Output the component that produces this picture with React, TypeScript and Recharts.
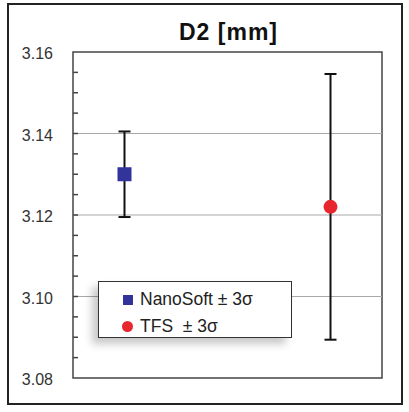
import {
  ScatterChart,
  Scatter,
  XAxis,
  YAxis,
  ErrorBar,
  ReferenceArea,
  ReferenceLine,
  Legend,
} from "recharts";

const seriesNames = ["NanoSoft ± 3σ", "TFS  ± 3σ"];
const positions = [1, 5];
const means = [3.13, 3.122];
const threeSigma = [0.0105, 0.0326];
const yTicks = [3.08, 3.1, 3.12, 3.14, 3.16];
const gridValues = [3.1, 3.12, 3.14];
const allTicks = [
  3.08, 3.085, 3.09, 3.095, 3.1, 3.105, 3.11, 3.115, 3.12, 3.125, 3.13, 3.135,
  3.14, 3.145, 3.15, 3.155, 3.16,
];

const nanoData = [{ x: positions[0], y: means[0], err: threeSigma[0] }];
const tfsData = [{ x: positions[1], y: means[1], err: threeSigma[1] }];

const FONT = "'Liberation Sans', Arial, sans-serif";

const Square = (props: any) => {
  const { cx, cy } = props;
  return <rect x={cx - 7} y={cy - 7} width={14} height={14} fill="#33339c" />;
};

const Dot = (props: any) => {
  const { cx, cy } = props;
  return <circle cx={cx} cy={cy} r={7} fill="#e8262e" />;
};

// labels only on the major values, short inward ticks on every 0.005
const YTick = (props: any) => {
  const { x, y, payload } = props;
  const v = payload.value;
  const major = yTicks.some((t) => Math.abs(t - v) < 1e-6);
  const edge = Math.abs(v - 3.08) < 1e-6 || Math.abs(v - 3.16) < 1e-6;
  return (
    <g>
      {!edge && (
        <line x1={x} x2={x + 5} y1={y} y2={y} stroke="#444" strokeWidth={1.5} />
      )}
      {major && (
        <text
          x={x - 20}
          y={y}
          dy={7}
          textAnchor="end"
          fill="#333"
          fontSize={16}
          fontFamily={FONT}
        >
          {v.toFixed(2)}
        </text>
      )}
    </g>
  );
};

const LegendBox = () => (
  <div
    style={{
      width: 194,
      height: 57,
      border: "1px solid #333",
      background: "#fff",
      boxShadow: "-6px 6px 8px rgba(0,0,0,0.22)",
      fontFamily: FONT,
      fontSize: 17.5,
      color: "#222",
      boxSizing: "border-box",
      paddingTop: 4,
      whiteSpace: "pre",
    }}
  >
    <div style={{ display: "flex", alignItems: "center", height: 27 }}>
      <span
        style={{
          display: "inline-block",
          width: 10,
          height: 10,
          background: "#33339c",
          marginLeft: 24,
          marginRight: 7,
        }}
      />
      {seriesNames[0]}
    </div>
    <div style={{ display: "flex", alignItems: "center", height: 27 }}>
      <span
        style={{
          display: "inline-block",
          width: 11,
          height: 11,
          borderRadius: "50%",
          background: "#e8262e",
          marginLeft: 23,
          marginRight: 7,
        }}
      />
      {seriesNames[1]}
    </div>
  </div>
);

export default function App() {
  return (
    <div
      style={{
        position: "absolute",
        left: 0,
        top: 0,
        width: 409,
        height: 412,
        background: "#fff",
      }}
    >
      <div
        style={{
          position: "absolute",
          left: 7,
          top: 3,
          width: 396,
          height: 402,
          border: "2px solid #222",
          boxSizing: "border-box",
        }}
      />
      <div
        style={{
          position: "absolute",
          left: 0,
          width: 409,
          top: 19,
          textAlign: "center",
          paddingLeft: 48,
          boxSizing: "border-box",
          fontFamily: FONT,
          fontWeight: "bold",
          fontSize: 23,
          letterSpacing: 1,
          color: "#111",
        }}
      >
        D2 [mm]
      </div>
      <div style={{ position: "absolute", left: 0, top: 0 }}>
        <ScatterChart
          width={409}
          height={412}
          margin={{ top: 52, right: 27, bottom: 34, left: 0 }}
        >
          <XAxis type="number" dataKey="x" domain={[0, 6]} hide />
          <YAxis
            type="number"
            dataKey="y"
            domain={[3.08, 3.16]}
            ticks={allTicks}
            interval={0}
            width={73}
            axisLine={false}
            tickLine={false}
            tickSize={0}
            tickMargin={0}
            tick={YTick}
          />
          {gridValues.map((v) => (
            <ReferenceLine key={v} y={v} stroke="#a8a8a8" strokeWidth={1} />
          ))}
          <ReferenceArea
            x1={0}
            x2={6}
            y1={3.08}
            y2={3.16}
            fill="none"
            stroke="#444"
            strokeWidth={1.5}
          />
          <Scatter data={nanoData} shape={Square} isAnimationActive={false}>
            <ErrorBar
              dataKey="err"
              direction="y"
              width={6}
              stroke="#111"
              strokeWidth={2}
            />
          </Scatter>
          <Scatter data={tfsData} shape={Dot} isAnimationActive={false}>
            <ErrorBar
              dataKey="err"
              direction="y"
              width={6}
              stroke="#111"
              strokeWidth={2}
            />
          </Scatter>
          <Legend
            layout="vertical"
            align="center"
            verticalAlign="middle"
            content={LegendBox}
            wrapperStyle={{ left: 98, top: 281, width: 194, height: 57 }}
          />
        </ScatterChart>
      </div>
    </div>
  );
}
